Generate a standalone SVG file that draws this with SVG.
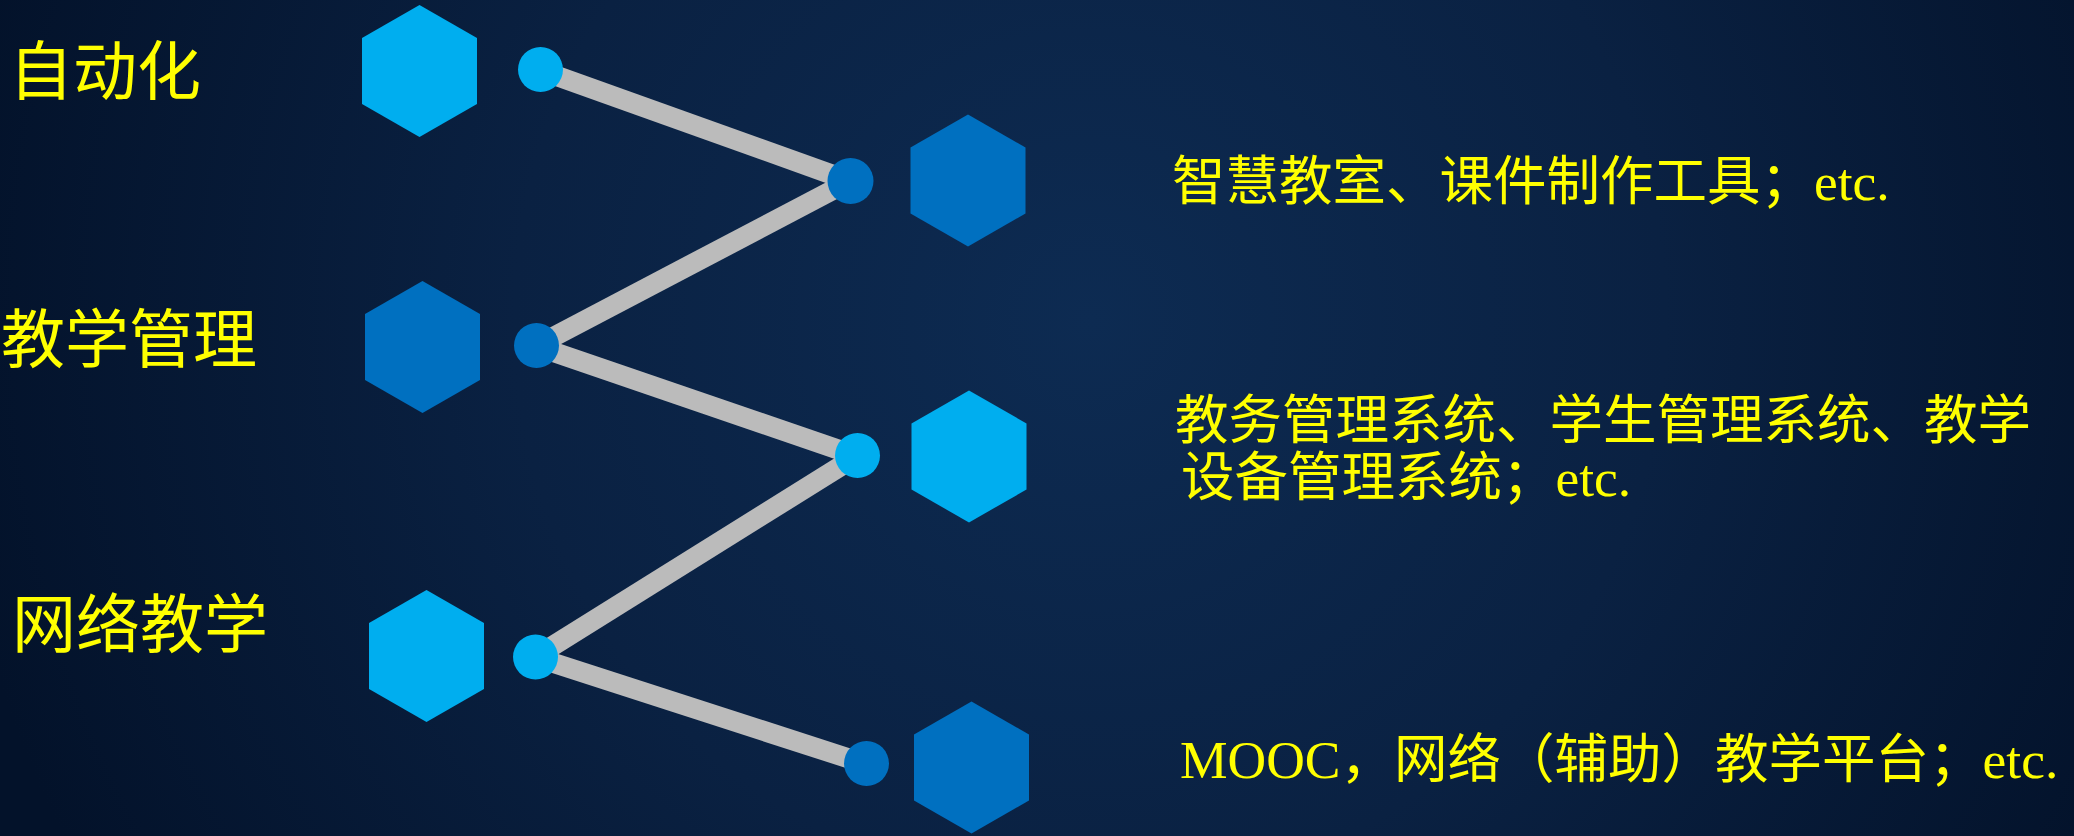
<svg xmlns="http://www.w3.org/2000/svg" width="2074" height="836" viewBox="0 0 2074 836">
  <defs>
    <radialGradient id="bg" gradientUnits="userSpaceOnUse" cx="1090" cy="320" r="1150">
      <stop offset="0" stop-color="#0D2B52"/>
      <stop offset="0.5" stop-color="#0A2142"/>
      <stop offset="1" stop-color="#03122A"/>
    </radialGradient>
    <polygon id="hex" points="0,-66 57.5,-33 57.5,33 0,66 -57.5,33 -57.5,-33"/>
  </defs>
  <style>
    .light { fill: #00AEEF; }
    .dark { fill: #0070C0; }
    .conn { stroke: #BBBBBB; stroke-width: 20; fill: none; }
    .lbl { fill: #FFFF00; font-family: "Liberation Serif", "Noto Sans CJK SC", serif; }
    .big { font-size: 64px; }
    .small { font-size: 53.5px; }
  </style>
  <rect x="0" y="0" width="2074" height="836" fill="url(#bg)"/>

  <g id="connectors">
    <line class="conn" x1="540" y1="70" x2="850" y2="181"/>
    <line class="conn" x1="850" y1="181" x2="536" y2="346"/>
    <line class="conn" x1="536" y1="346" x2="857" y2="456"/>
    <line class="conn" x1="857" y1="456" x2="535" y2="657"/>
    <line class="conn" x1="535" y1="657" x2="866" y2="764"/>
  </g>

  <g id="node-auto">
    <use href="#hex" class="light" x="419.5" y="71"/>
    <circle class="light" cx="540.5" cy="69.5" r="22.5"/>
    <text class="lbl big" x="9" y="94">自动化</text>
  </g>
  <g id="node-auto-detail">
    <circle class="dark" cx="850.5" cy="181" r="23"/>
    <use href="#hex" class="dark" x="968" y="180.5"/>
    <text class="lbl small" x="1172" y="200">智慧教室、课件制作工具；etc.</text>
  </g>
  <g id="node-mgmt">
    <use href="#hex" class="dark" x="422.5" y="347"/>
    <circle class="dark" cx="536.5" cy="345.5" r="22.5"/>
    <text class="lbl big" x="1" y="362">教学管理</text>
  </g>
  <g id="node-mgmt-detail">
    <circle class="light" cx="857.5" cy="455.5" r="22.5"/>
    <use href="#hex" class="light" x="969" y="456.5"/>
    <text class="lbl small" x="1175" y="439">教务管理系统、学生管理系统、教学</text>
    <text class="lbl small" x="1181" y="496">设备管理系统；etc.</text>
  </g>
  <g id="node-net">
    <use href="#hex" class="light" x="426.5" y="656"/>
    <circle class="light" cx="535.5" cy="657" r="22.5"/>
    <text class="lbl big" x="12" y="647">网络教学</text>
  </g>
  <g id="node-net-detail">
    <circle class="dark" cx="866.5" cy="763.5" r="22.5"/>
    <use href="#hex" class="dark" x="971.5" y="767.5"/>
    <text class="lbl small" x="1180" y="778">MOOC，网络（辅助）教学平台；etc.</text>
  </g>
</svg>
